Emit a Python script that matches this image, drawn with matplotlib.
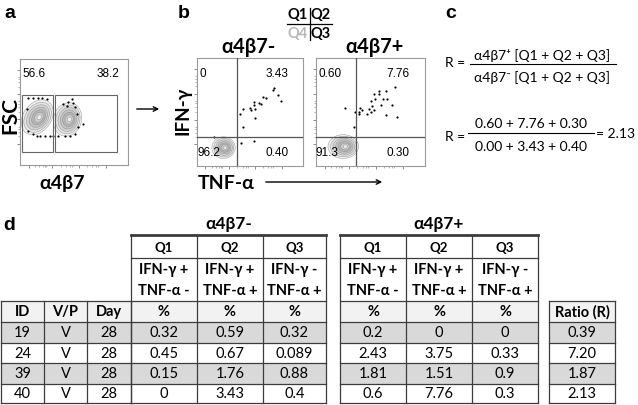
"""Flow panels (a-c) and the alpha4beta7 cytokine table (d), rebuilt in matplotlib."""
import matplotlib
matplotlib.use("Agg")
import matplotlib.pyplot as plt
from matplotlib.patches import Ellipse, Rectangle, FancyArrowPatch

W, H = 638, 406
TXT = ["Lato", "DejaVu Sans"]      # Calibri-like text
ARL = ["Liberation Sans", "DejaVu Sans"]  # flow plot numbers

# ---------------------------------------------------------------- data
# panel a: gate percentages and outlier events (0-100 display units)
a_gate_pct = ["56.6", "38.2"]
a_dots_x = [7.4, 12.0, 16.7, 20.4, 25.0, 6.5, 7.4, 12.0, 15.7, 18.5, 23.1, 27.8,
            39.8, 44.4, 49.1, 50.9, 52.8, 58.3, 53.7, 50.9, 46.3, 41.7, 35.2, 30.6,
            48.1, 43.5]
a_dots_y = [63.2, 63.2, 63.2, 63.2, 62.3, 52.8, 32.1, 29.2, 27.4, 27.4, 27.4, 27.4,
            57.5, 59.4, 58.5, 54.7, 48.1, 38.7, 35.8, 29.2, 27.4, 27.4, 27.4, 27.4,
            62.3, 55.7]

# panel b: quadrant percentages Q1, Q2, Q3, Q4
neg_quad_pct = ["0", "3.43", "0.40", "96.2"]
pos_quad_pct = ["0.60", "7.76", "0.30", "91.3"]
neg_dots_x = [72.6, 71.7, 76.4, 79.2, 62.3, 65.1, 58.5, 60.4, 53.8, 53.8, 50.0, 50.9,
              54.7, 43.4, 40.6, 54.7, 43.4, 41.5, 53.8, 16.0]
neg_dots_y = [72.2, 70.4, 65.7, 60.2, 63.9, 63.0, 58.3, 57.4, 59.3, 56.5, 53.7, 51.9,
              52.8, 52.8, 48.1, 44.4, 36.1, 21.3, 23.1, 26.9]
pos_dots_x = [72.5, 63.9, 58.1, 58.1, 53.5, 65.4, 61.2, 53.9, 50.5, 51.7, 69.7, 59.6,
              40.4, 41.9, 48.6, 53.5, 50.2, 39.7, 39.2, 47.1, 64.2, 74.6, 26.6, 35.8,
              34.6]
pos_dots_y = [73.1, 69.4, 69.4, 66.7, 66.7, 62.1, 62.1, 62.1, 59.9, 55.3, 56.9, 56.2,
              53.9, 52.3, 52.9, 52.3, 49.8, 49.8, 47.7, 48.6, 47.1, 45.2, 53.5, 49.8,
              36.1]

# panel c: worked example
r_num = "0.60 + 7.76 + 0.30"
r_den = "0.00 + 3.43 + 0.40"
r_val = "2.13"

# panel d: table
ids = ["19", "24", "39", "40"]
vp = ["V", "V", "V", "V"]
day = ["28", "28", "28", "28"]
neg_q1 = ["0.32", "0.45", "0.15", "0"]
neg_q2 = ["0.59", "0.67", "1.76", "3.43"]
neg_q3 = ["0.32", "0.089", "0.88", "0.4"]
pos_q1 = ["0.2", "2.43", "1.81", "0.6"]
pos_q2 = ["0", "3.75", "1.51", "7.76"]
pos_q3 = ["0", "0.33", "0.9", "0.3"]
ratio = ["0.39", "7.20", "1.87", "2.13"]
quad_names = ["Q1", "Q2", "Q3"]
quad_desc = [("IFN-γ +", "TNF-α -"), ("IFN-γ +", "TNF-α +"), ("IFN-γ -", "TNF-α +")]

# ---------------------------------------------------------------- layout
fig = plt.figure(figsize=(W / 100, H / 100), dpi=100)
ov = fig.add_axes([0, 0, 1, 1])
ov.set_xlim(0, W)
ov.set_ylim(H, 0)
ov.axis("off")


def flow_axes(x0, y0, x1, y1):
    ax = fig.add_axes([x0 / W, 1 - y1 / H, (x1 - x0) / W, (y1 - y0) / H])
    ax.set_xlim(0, 100)
    ax.set_ylim(0, 100)
    for s in ax.spines.values():
        s.set_color("#9a9a9a")
        s.set_linewidth(0.8)
    ax.tick_params(length=2.5, width=0.6, color="#777777", labelleft=False,
                   labelbottom=False)
    ax.tick_params(which="minor", length=1.3, width=0.5, color="#999999")
    ax.set_xticks([8, 30, 55, 80])
    ax.set_yticks([20, 43, 67, 90])
    ax.set_xticks([14, 18, 21, 23, 24, 38, 43, 46, 48, 62, 67, 70, 72], minor=True)
    ax.set_yticks([27, 31, 34, 36, 50, 55, 58, 60, 74, 78, 81, 83], minor=True)
    return ax


def blob(ax, cx, cy, w, h, ang, n=7, dark="#8c8c8c"):
    grays = ["#f0f0f0", "#e2e2e2", "#d2d2d2", "#c2c2c2", "#b4b4b4", "#d0d0d0", "#f2f2f2"]
    for i in range(n):
        f = 1 - i / n
        ax.add_patch(Ellipse((cx + (1 - f) * w * 0.08, cy), w * f, h * f, angle=ang,
                             facecolor=grays[i % len(grays)], edgecolor=dark,
                             lw=0.35, alpha=0.9, zorder=1))


def quad_text(ax, pct):
    kw = dict(fontsize=8.5, family=ARL, zorder=5)
    ax.text(2, 86, pct[0], ha="left", va="center", **kw)
    ax.text(86, 86, pct[1], ha="right", va="center", **kw)
    ax.text(86, 13, pct[2], ha="right", va="center", **kw)
    ax.text(0, 13, pct[3], ha="left", va="center", **kw)


# panel a
ax_a = flow_axes(20, 60, 128, 166)
blob(ax_a, 16, 45, 26, 36, -35)
blob(ax_a, 44, 43, 26, 32, -15)
ax_a.scatter(a_dots_x, a_dots_y, s=2.5, c="black", lw=0, zorder=3)
for gx0, gx1 in [(1.9, 30.6), (32.4, 89.8)]:
    ax_a.add_patch(Rectangle((gx0, 12.3), gx1 - gx0, 53.7, fill=False,
                             edgecolor="#666666", lw=0.8, zorder=4))
ax_a.text(2, 87, a_gate_pct[0], ha="left", va="center", fontsize=8.5, family=ARL)
ax_a.text(92, 87, a_gate_pct[1], ha="right", va="center", fontsize=8.5, family=ARL)

# panel b
ax_n = flow_axes(197, 59, 303, 167)
blob(ax_n, 25, 17, 22, 20, 0)
ax_n.scatter(neg_dots_x, neg_dots_y, s=2.5, c="black", lw=0, zorder=3)
ax_n.axvline(37.7, color="#555555", lw=0.9, zorder=4)
ax_n.axhline(26.9, color="#555555", lw=0.9, zorder=4)
quad_text(ax_n, neg_quad_pct)

ax_p = flow_axes(316, 59, 425, 167)
blob(ax_p, 25, 18, 28, 22, 0)
ax_p.scatter(pos_dots_x, pos_dots_y, s=2.5, c="black", lw=0, zorder=3)
ax_p.axvline(36.7, color="#555555", lw=0.9, zorder=4)
ax_p.axhline(26.6, color="#555555", lw=0.9, zorder=4)
quad_text(ax_p, pos_quad_pct)

# labels and arrows on the overlay
bold = dict(fontweight="bold", family=TXT)
for x, y, s in [(10, 13, "a"), (184, 13, "b"), (451, 13, "c"), (9, 226, "d")]:
    ov.text(x, y, s, fontsize=14, fontweight="bold", family=ARL, ha="center", va="center")
ov.text(10, 116, "FSC", rotation=90, fontsize=15, ha="center", va="center", **bold)
ov.text(62, 184, "α4β7", fontsize=14, ha="center", va="center", **bold)
ov.text(183, 111, "IFN-γ", rotation=90, fontsize=13.5, ha="center", va="center", **bold)
ov.text(226, 184, "TNF-α", fontsize=14, ha="center", va="center", **bold)
ov.text(248, 47, "α4β7-", fontsize=14.5, ha="center", va="center", **bold)
ov.text(375, 47, "α4β7+", fontsize=14.5, ha="center", va="center", **bold)
for (x0, y0, x1, y1) in [(134, 110, 162, 110), (263, 183, 385, 183)]:
    ov.add_patch(FancyArrowPatch((x0, y0), (x1, y1), arrowstyle="->", lw=1.0,
                                 mutation_scale=8, color="black"))

# quadrant key
ov.text(298, 15, "Q1", fontsize=10.5, ha="center", va="center", **bold)
ov.text(321, 15, "Q2", fontsize=10.5, ha="center", va="center", **bold)
ov.text(298, 34, "Q4", fontsize=10.5, ha="center", va="center", color="#b8b8b8",
        fontweight="bold", family=TXT)
ov.text(321, 34, "Q3", fontsize=10.5, ha="center", va="center", **bold)
ov.plot([287, 332], [25, 25], color="black", lw=0.9)
ov.plot([310, 310], [9, 41], color="black", lw=0.9)

# panel c formulas
ck = dict(fontsize=10, family=TXT, va="center")
ov.text(445, 63, "R =", ha="left", **ck)
ov.text(542, 56, "α4β7⁺ [Q1 + Q2 + Q3]", ha="center", **ck)
ov.text(542, 78, "α4β7⁻ [Q1 + Q2 + Q3]", ha="center", **ck)
ov.plot([470, 616], [65, 65], color="black", lw=0.8)
ov.text(445, 137, "R =", ha="left", **ck)
ov.text(531, 124, r_num, ha="center", **ck)
ov.text(531, 147, r_den, ha="center", **ck)
ov.plot([468, 594], [134, 134], color="black", lw=0.8)
ov.text(635, 134, "= " + r_val, ha="right", **ck)

# ---------------------------------------------------------------- table
LC = "#3c3c3c"
FS = 10.5
row_edges = [302, 323, 343.5, 364, 384.5, 404]
row_fill = ["#f2f2f2", "#d9d9d9", "white", "#d9d9d9", "white"]
id_cols = [1, 44, 87, 131]
neg_cols = [131, 197, 263, 326]
pos_cols = [340, 406, 472, 538]
rat_cols = [549, 615]


def fill_rows(x0, x1):
    for i, c in enumerate(row_fill):
        ov.add_patch(Rectangle((x0, row_edges[i]), x1 - x0,
                               row_edges[i + 1] - row_edges[i], facecolor=c,
                               edgecolor="none", zorder=0))


def grid(cols, top):
    for y in row_edges:
        ov.plot([cols[0], cols[-1]], [y, y], color=LC, lw=0.9)
    for x in cols:
        ov.plot([x, x], [top, row_edges[-1]], color=LC, lw=0.9)


def col_text(cols, values, weight="normal"):
    for j, vals in enumerate(values):
        cx = (cols[j] + cols[j + 1]) / 2
        for i, v in enumerate(vals):
            yc = (row_edges[i] + row_edges[i + 1]) / 2
            ov.text(cx, yc, v, ha="center", va="center", fontsize=FS,
                    family=TXT, fontweight="bold" if i == 0 else weight)


def quad_header(cols, title):
    ov.text((cols[0] + cols[-1]) / 2, 224, title, fontsize=12.5, ha="center",
            va="center", **bold)
    ov.plot([cols[0], cols[-1]], [236, 236], color=LC, lw=2.0)
    ov.plot([cols[0], cols[-1]], [259, 259], color=LC, lw=0.9)
    for j in range(3):
        cx = (cols[j] + cols[j + 1]) / 2
        ov.text(cx, 248, quad_names[j], fontsize=9.5, ha="center", va="center", **bold)
        ov.text(cx, 270, quad_desc[j][0], fontsize=FS, ha="center", va="center", **bold)
        ov.text(cx, 291, quad_desc[j][1], fontsize=FS, ha="center", va="center", **bold)


fill_rows(id_cols[0], neg_cols[-1])
fill_rows(pos_cols[0], pos_cols[-1])
fill_rows(rat_cols[0], rat_cols[-1])
grid(id_cols, row_edges[0])
grid(neg_cols, 236)
grid(pos_cols, 236)
grid(rat_cols, row_edges[0])
quad_header(neg_cols, "α4β7-")
quad_header(pos_cols, "α4β7+")

col_text(id_cols, [["ID"] + ids, ["V/P"] + vp, ["Day"] + day])
col_text(neg_cols, [["%"] + neg_q1, ["%"] + neg_q2, ["%"] + neg_q3])
col_text(pos_cols, [["%"] + pos_q1, ["%"] + pos_q2, ["%"] + pos_q3])
col_text(rat_cols, [["Ratio (R)"] + ratio])

fig.savefig("out.png", dpi=100)
